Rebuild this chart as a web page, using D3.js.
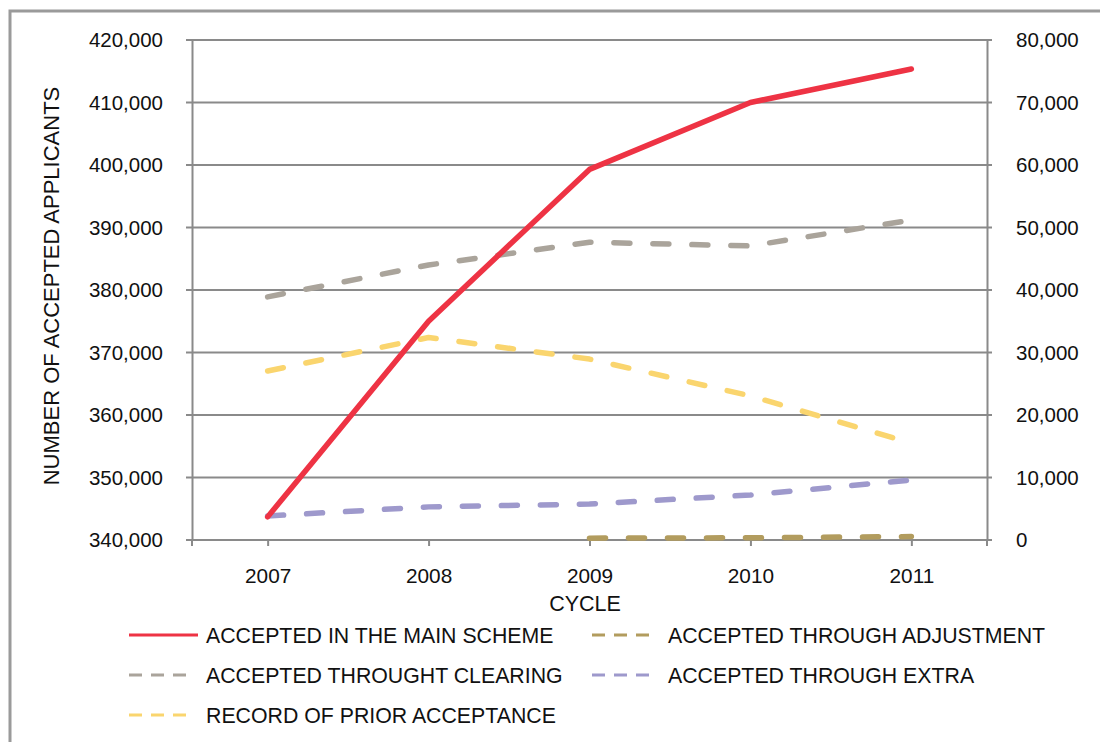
<!DOCTYPE html>
<html><head><meta charset="utf-8">
<script src="https://cdn.jsdelivr.net/npm/d3@7"></script>
<style>
html,body{margin:0;padding:0;background:#fff;}
svg{display:block;font-family:"Liberation Sans",Arial,Helvetica,sans-serif;}
</style></head>
<body>
<svg id="chart" width="1100" height="742"></svg>
<script>
const cycles = ["2007","2008","2009","2010","2011"];
const mainScheme = [343700, 375000, 399300, 410000, 415350];
const clearing = [38900, 44000, 47650, 47050, 51200];
const adjustment = [null, null, 300, 350, 550];
const extra = [3850, 5300, 5750, 7200, 9600];
const priorAcceptance = [27050, 32400, 28950, 23050, 15500];
const leftTicks = [340000,350000,360000,370000,380000,390000,400000,410000,420000];
const rightTicks = [0,10000,20000,30000,40000,50000,60000,70000,80000];
const seriesNames = ["ACCEPTED IN THE MAIN SCHEME","ACCEPTED THROUGH ADJUSTMENT","ACCEPTED THROUGHT CLEARING","ACCEPTED THROUGH EXTRA","RECORD OF PRIOR ACCEPTANCE"];

const svg = d3.select("#chart");
const L = 192, R = 987, T = 40, B = 540;
const grid = "#8a8a8a";

svg.append("rect").attr("x",10).attr("y",11).attr("width",1100).attr("height",740)
  .attr("fill","none").attr("stroke","#9a9a9a").attr("stroke-width",3);

const x = d3.scalePoint().domain(cycles).range([L,R]).padding(0.47);
const yL = d3.scaleLinear().domain([340000,420000]).range([B,T]);
const yR = d3.scaleLinear().domain([0,80000]).range([B,T]);
const fmt = d3.format(",");

// gridlines
svg.append("g").selectAll("line").data(leftTicks).join("line")
  .attr("x1",L-6).attr("x2",R+5).attr("y1",d=>yL(d)).attr("y2",d=>yL(d))
  .attr("stroke",grid).attr("stroke-width",2);

// left axis
const gl = svg.append("g").attr("transform",`translate(${L},0)`)
  .call(d3.axisLeft(yL).tickValues(leftTicks).tickFormat(fmt).tickSize(0).tickPadding(29));
gl.select(".domain").attr("stroke",grid).attr("stroke-width",2);
gl.selectAll("text").attr("font-size",20.5).attr("fill","#111").attr("font-family","Liberation Sans, Arial, sans-serif");

const gr = svg.append("g").attr("transform",`translate(${R},0)`)
  .call(d3.axisRight(yR).tickValues(rightTicks).tickFormat(fmt).tickSize(0).tickPadding(29));
gr.select(".domain").attr("stroke",grid).attr("stroke-width",2);
gr.selectAll("text").attr("font-size",20.5).attr("fill","#111").attr("font-family","Liberation Sans, Arial, sans-serif");

// x axis
const gx = svg.append("g").attr("transform",`translate(0,${B})`)
  .call(d3.axisBottom(x).tickSize(6).tickPadding(22));
gx.select(".domain").attr("d",`M${L},6V0H${R}V6`).attr("stroke",grid).attr("stroke-width",2);
gx.selectAll(".tick line").attr("stroke",grid).attr("stroke-width",2);
gx.selectAll("text").attr("font-size",20.8).attr("fill","#111").attr("font-family","Liberation Sans, Arial, sans-serif");

svg.append("text").attr("x",585).attr("y",611).attr("text-anchor","middle")
  .attr("font-size",21.5).attr("fill","#111").text("CYCLE");
svg.append("text").attr("transform","translate(59,286) rotate(-90)").attr("text-anchor","middle")
  .attr("font-size",22).attr("fill","#111").text("NUMBER OF ACCEPTED APPLICANTS");

const colors = {main:"#ee3344", adj:"#b29c5e", clr:"#aaa49b", ext:"#9e99cc", prior:"#fad56e"};
function drawLine(vals, yscale, color, dashed){
  const line = d3.line().defined(d=>d!=null).x((d,i)=>x(cycles[i])).y(d=>yscale(d));
  const p = svg.append("path").datum(vals).attr("d",line).attr("fill","none")
    .attr("stroke",color).attr("stroke-width",5.5).attr("stroke-linecap","round").attr("stroke-linejoin","round");
  if(dashed) p.attr("stroke-dasharray","16,23");
}
drawLine(clearing, yR, colors.clr, true);
drawLine(priorAcceptance, yR, colors.prior, true);
drawLine(extra, yR, colors.ext, true);
drawLine(adjustment, yR, colors.adj, true);
drawLine(mainScheme, yL, colors.main, false);

// legend
const leg = [
  {name:seriesNames[0], c:colors.main, dash:false, x:129, y:635},
  {name:seriesNames[1], c:colors.adj, dash:true, x:592, y:635},
  {name:seriesNames[2], c:colors.clr, dash:true, x:129, y:675},
  {name:seriesNames[3], c:colors.ext, dash:true, x:592, y:675},
  {name:seriesNames[4], c:colors.prior, dash:true, x:129, y:715}
];
leg.forEach(d=>{
  svg.append("line").attr("x1",d.x).attr("x2",d.dash?d.x+57:d.x+69).attr("y1",d.y).attr("y2",d.y)
    .attr("stroke",d.c).attr("stroke-width",3).attr("stroke-dasharray",d.dash?"13,9":null);
  svg.append("text").attr("x",d.dash&&d.x>500?668:206).attr("y",d.y+7.5)
    .attr("font-size",21.3).attr("fill","#111").text(d.name);
});
</script>
</body></html>
